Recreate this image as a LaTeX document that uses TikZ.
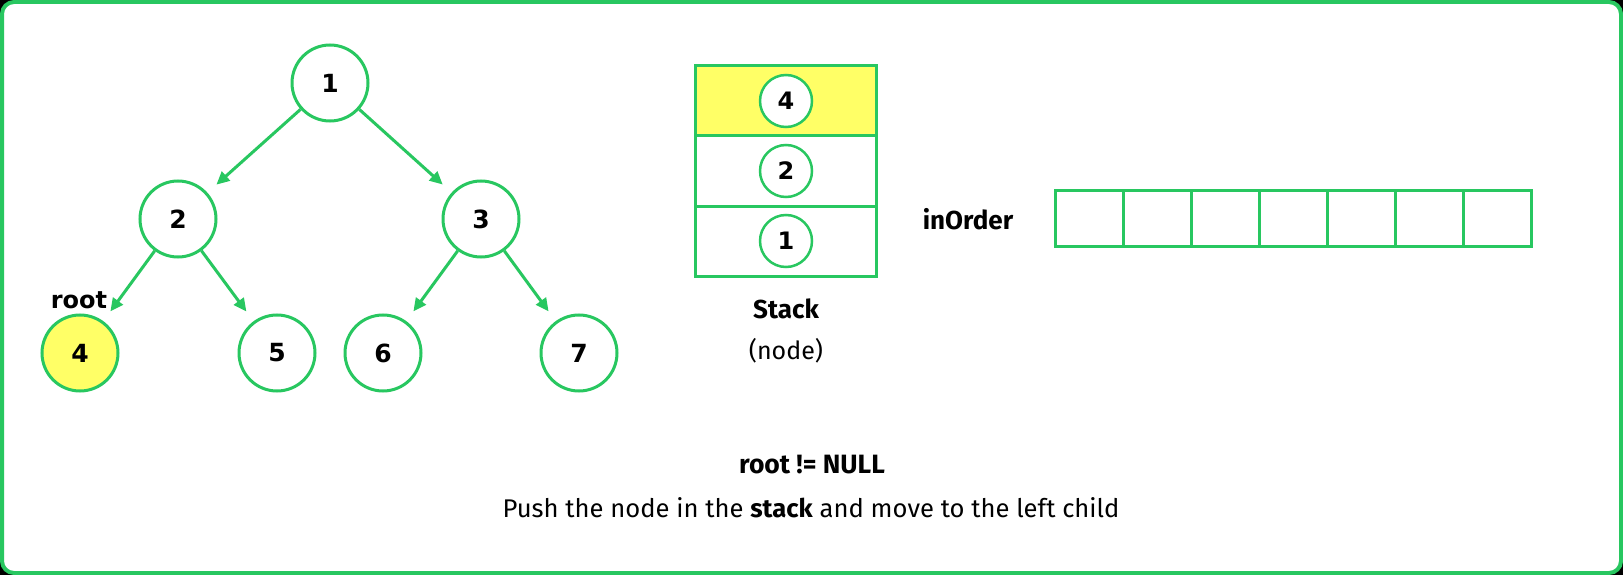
\documentclass[tikz,border=0pt]{standalone}
\usepackage{fontspec}
\setmainfont{Fira Sans}
\newfontfamily\dejavu{DejaVu Sans}
\usetikzlibrary{arrows.meta}
\definecolor{gfg}{RGB}{40,199,96}
\definecolor{hl}{RGB}{255,255,102}
\begin{document}
\begin{tikzpicture}[x=1pt,y=-1pt,
  tnode/.style={circle, draw=gfg, line width=3pt, minimum size=76pt, inner sep=0pt, fill=white,
    font=\dejavu\bfseries\fontsize{25}{30}\selectfont},
  snode/.style={circle, draw=gfg, line width=2.5pt, minimum size=52pt, inner sep=0pt, fill=white,
    font=\dejavu\bfseries\fontsize{24}{28}\selectfont},
  scell/.style={rectangle, draw=gfg, line width=3pt, minimum width=181pt, minimum height=70pt, inner sep=0pt},
  ocell/.style={rectangle, draw=gfg, line width=3pt, minimum width=68pt, minimum height=56pt, inner sep=0pt},
  conn/.style={draw=gfg, line width=3pt, -{Triangle[length=13pt,width=12pt]}, shorten >=12pt},
  lbl/.style={anchor=base, inner sep=0pt, font=\bfseries\fontsize{26}{30}\selectfont},
  txt/.style={anchor=base, inner sep=0pt, font=\fontsize{25}{30}\selectfont}]
\useasboundingbox (0,0) rectangle (1623,575);
\fill[black] (0,0) rectangle (1623,575);
\draw[gfg, line width=4pt, fill=white, rounded corners=12pt] (2,2) rectangle (1621,573);

% tree
\node[tnode] (n1) at (330,83) {1};
\node[tnode] (n2) at (178,219) {2};
\node[tnode] (n3) at (481,219) {3};
\node[tnode, fill=hl] (n4) at (80,353) {4};
\node[tnode] (n5) at (277,353) {5};
\node[tnode] (n6) at (383,353) {6};
\node[tnode] (n7) at (579,353) {7};
\draw[conn] (n1) -- (n2);
\draw[conn] (n1) -- (n3);
\draw[conn] (n2) -- (n4);
\draw[conn] (n2) -- (n5);
\draw[conn] (n3) -- (n6);
\draw[conn] (n3) -- (n7);
\node[anchor=base, inner sep=0pt, font=\dejavu\bfseries\fontsize{24}{28}\selectfont] (rootlbl) at (79,308) {root};

% stack
\node[scell, fill=hl] (c3) at (786,101) {};
\node[scell] (c2) at (786,171) {};
\node[scell] (c1) at (786,241) {};
\node[snode] (s4) at (786,101) {4};
\node[snode] (s2) at (786,171) {2};
\node[snode] (s1) at (786,241) {1};
\node[lbl] (stk) at (786,318) {Stack};
\node[txt] (stkn) at (786,359) {(node)};

% inOrder
\node[lbl] (io) at (968,229) {inOrder};
\foreach \i in {0,...,6} {
  \node[ocell] (o\i) at ({1089+68*\i},218) {};
}

% caption
\node[lbl, font=\bfseries\fontsize{26.5}{30}\selectfont] (cond) at (812,473) {root != NULL};
\node[txt, font=\fontsize{25.6}{30}\selectfont] (desc) at (811,517) {Push the node in the \textbf{stack} and move to the left child};
\end{tikzpicture}
\end{document}
